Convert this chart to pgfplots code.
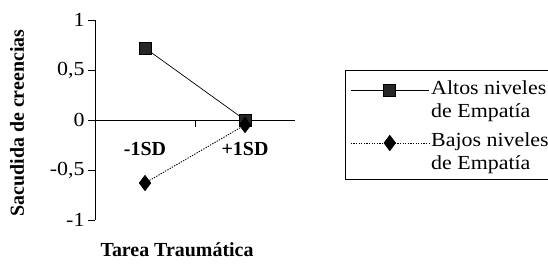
\documentclass[border=0pt]{standalone}
\usepackage{pgfplots}
\pgfplotsset{compat=1.18}
\usepackage{fontspec}
\setmainfont{Liberation Serif}[FakeStretch=1.1, BoldFeatures={FakeStretch=1.0}]
\newcommand{\twol}[2]{\begin{tabular}[b]{@{}l@{}}#1\\#2\end{tabular}}
\begin{document}
\begin{tikzpicture}[x=1bp,y=1bp]
\path[use as bounding box] (0,0) rectangle (548,264);
\begin{axis}[
  at={(95bp,144bp)}, anchor=origin,
  scale only axis, width=200bp, height=200bp,
  xmin=0, xmax=2, ymin=-1, ymax=1,
  axis x line=middle, axis y line=left,
  axis line style={-, black, line width=0.7pt},
  tick style={black, line width=0.7pt},
  tick align=outside, major tick length=7bp,
  xtick={1}, xticklabels={},
  extra x ticks={0.5,1.5},
  extra x tick labels={-1SD,+1SD},
  extra x tick style={major tick length=0pt, tick label style={font=\fontsize{20}{24}\selectfont\bfseries, yshift=-19bp}},
  ytick={-1,-0.5,0,0.5,1},
  yticklabels={-1,{-0,5},0,{0,5},1},
  hide obscured y ticks=false,
  yticklabel style={font=\fontsize{20}{24}\selectfont},
  xlabel={Tarea Traumática},
  xlabel style={at={(rel axis cs:0.41,-0.15)}, anchor=center, font=\fontsize{20}{24}\selectfont\bfseries},
  ylabel={Sacudida de creencias},
  ylabel style={at={(rel axis cs:-0.39,0.485)}, anchor=center, font=\fontsize{20}{24}\selectfont\bfseries},
  clip=false,
  legend style={at={(rel axis cs:1.25,0.75)}, anchor=north west, draw=black, line width=0.7pt,
    font=\fontsize{20}{23}\selectfont, inner xsep=5bp, inner ysep=6bp, row sep=8bp},
  legend cell align=left,
  legend image code/.code={\draw[mark repeat=2,mark phase=2,#1] plot coordinates {(0bp,8bp) (39bp,8bp) (78bp,8bp)};},
]
\addplot[black, line width=0.7pt, mark=square*, mark size=6bp, mark options={solid, fill=black!85}] coordinates {(0.5,0.72) (1.5,0.0)};
\addlegendentry{\twol{Altos niveles}{de Empatía}}
\addplot[black, line width=0.9pt, dash pattern=on 1.3pt off 1.3pt, mark=diamond*, mark size=7.5bp, mark options={solid, fill=black}] coordinates {(0.5,-0.63) (1.5,-0.05)};
\addlegendentry{\twol{Bajos niveles}{de Empatía}}
\end{axis}
\end{tikzpicture}
\end{document}
